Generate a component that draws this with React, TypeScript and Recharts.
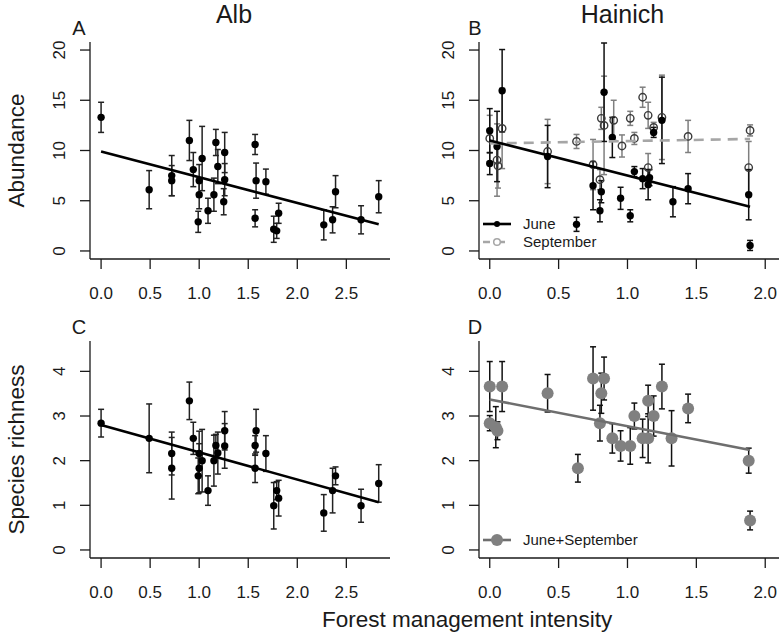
import React from "react";
import { ScatterChart, Scatter, XAxis, YAxis, ErrorBar } from "recharts";

// Alb sites: abundance (A) and species richness (C), mean +/- se
const albAbundance = [
  { x: 0.0, y: 13.3, se: 1.5 },
  { x: 0.49, y: 6.1, se: 1.9 },
  { x: 0.72, y: 7.5, se: 2.0 },
  { x: 0.72, y: 7.0, se: 1.5 },
  { x: 0.9, y: 11.0, se: 2.0 },
  { x: 0.94, y: 8.1, se: 1.7 },
  { x: 1.0, y: 7.0, se: 1.6 },
  { x: 1.0, y: 5.6, se: 1.4 },
  { x: 0.99, y: 2.9, se: 1.05 },
  { x: 1.03, y: 9.2, se: 3.2 },
  { x: 1.09, y: 4.0, se: 1.25 },
  { x: 1.15, y: 5.6, se: 1.65 },
  { x: 1.17, y: 10.8, se: 1.3 },
  { x: 1.19, y: 8.4, se: 1.7 },
  { x: 1.26, y: 9.8, se: 2.0 },
  { x: 1.26, y: 7.1, se: 1.6 },
  { x: 1.25, y: 4.9, se: 1.3 },
  { x: 1.57, y: 10.6, se: 1.0 },
  { x: 1.58, y: 7.0, se: 1.75 },
  { x: 1.57, y: 3.25, se: 0.85 },
  { x: 1.68, y: 6.9, se: 1.25 },
  { x: 1.76, y: 2.16, se: 1.3 },
  { x: 1.79, y: 2.0, se: 0.75 },
  { x: 1.81, y: 3.75, se: 1.0 },
  { x: 2.27, y: 2.6, se: 1.5 },
  { x: 2.36, y: 3.1, se: 1.3 },
  { x: 2.39, y: 5.9, se: 1.6 },
  { x: 2.65, y: 3.1, se: 1.4 },
  { x: 2.83, y: 5.4, se: 1.6 },
];

const albRichness = [
  { x: 0.0, y: 2.84, se: 0.31 },
  { x: 0.49, y: 2.5, se: 0.77 },
  { x: 0.72, y: 2.16, se: 0.48 },
  { x: 0.72, y: 1.83, se: 0.69 },
  { x: 0.9, y: 3.34, se: 0.42 },
  { x: 0.94, y: 2.5, se: 0.36 },
  { x: 1.0, y: 2.16, se: 0.5 },
  { x: 1.0, y: 1.83, se: 0.55 },
  { x: 0.99, y: 1.66, se: 0.4 },
  { x: 1.03, y: 2.0, se: 0.7 },
  { x: 1.09, y: 1.33, se: 0.33 },
  { x: 1.15, y: 2.0, se: 0.57 },
  { x: 1.17, y: 2.34, se: 0.25 },
  { x: 1.19, y: 2.17, se: 0.47 },
  { x: 1.26, y: 2.67, se: 0.43 },
  { x: 1.26, y: 2.33, se: 0.5 },
  { x: 1.57, y: 2.34, se: 0.22 },
  { x: 1.58, y: 2.67, se: 0.48 },
  { x: 1.57, y: 1.83, se: 0.32 },
  { x: 1.68, y: 2.16, se: 0.4 },
  { x: 1.76, y: 0.99, se: 0.52 },
  { x: 1.79, y: 1.33, se: 0.2 },
  { x: 1.81, y: 1.16, se: 0.4 },
  { x: 2.27, y: 0.83, se: 0.41 },
  { x: 2.36, y: 1.33, se: 0.5 },
  { x: 2.39, y: 1.66, se: 0.2 },
  { x: 2.65, y: 0.99, se: 0.37 },
  { x: 2.83, y: 1.49, se: 0.42 },
];

// Hainich sites: abundance by month (B) and pooled richness (D)
const hainichJune = [
  { x: 0.0, y: 11.97, se: 2.2 },
  { x: 0.0, y: 8.7, se: 1.1 },
  { x: 0.053, y: 10.4, se: 3.5 },
  { x: 0.09, y: 15.95, se: 4.1 },
  { x: 0.42, y: 9.4, se: 3.1 },
  { x: 0.63, y: 2.65, se: 0.7 },
  { x: 0.75, y: 6.5, se: 2.4 },
  { x: 0.8, y: 4.0, se: 1.1 },
  { x: 0.81, y: 5.9, se: 1.1 },
  { x: 0.83, y: 15.8, se: 4.9 },
  { x: 0.89, y: 11.3, se: 2.0 },
  { x: 0.95, y: 5.24, se: 1.1 },
  { x: 1.02, y: 3.5, se: 0.6 },
  { x: 1.05, y: 7.9, se: 0.5 },
  { x: 1.11, y: 7.2, se: 1.0 },
  { x: 1.15, y: 6.6, se: 1.5 },
  { x: 1.16, y: 7.3, se: 0.8 },
  { x: 1.19, y: 11.8, se: 0.5 },
  { x: 1.25, y: 13.0, se: 4.3 },
  { x: 1.33, y: 4.9, se: 1.5 },
  { x: 1.44, y: 6.2, se: 1.5 },
  { x: 1.88, y: 5.6, se: 2.5 },
  { x: 1.89, y: 0.55, se: 0.5 },
];

const hainichSeptember = [
  { x: 0.0, y: 11.2, se: 2.3 },
  { x: 0.053, y: 9.05, se: 3.6 },
  { x: 0.06, y: 8.46, se: 2.2 },
  { x: 0.09, y: 12.2, se: 4.0 },
  { x: 0.42, y: 9.9, se: 3.2 },
  { x: 0.63, y: 10.9, se: 0.7 },
  { x: 0.75, y: 8.6, se: 2.5 },
  { x: 0.8, y: 7.1, se: 1.0 },
  { x: 0.81, y: 13.2, se: 1.1 },
  { x: 0.83, y: 12.5, se: 4.9 },
  { x: 0.9, y: 13.0, se: 2.0 },
  { x: 0.96, y: 10.45, se: 1.1 },
  { x: 1.02, y: 13.2, se: 0.7 },
  { x: 1.05, y: 11.2, se: 0.6 },
  { x: 1.11, y: 15.3, se: 1.0 },
  { x: 1.15, y: 13.5, se: 1.3 },
  { x: 1.15, y: 8.3, se: 1.4 },
  { x: 1.19, y: 12.3, se: 0.5 },
  { x: 1.25, y: 13.3, se: 4.2 },
  { x: 1.44, y: 11.4, se: 1.6 },
  { x: 1.89, y: 12.0, se: 0.55 },
  { x: 1.88, y: 8.3, se: 2.6 },
];

const hainichRichness = [
  { x: 0.0, y: 3.66, se: 0.56 },
  { x: 0.0, y: 2.84, se: 0.17 },
  { x: 0.044, y: 2.75, se: 0.46 },
  { x: 0.056, y: 2.67, se: 0.2 },
  { x: 0.09, y: 3.66, se: 0.56 },
  { x: 0.42, y: 3.51, se: 0.42 },
  { x: 0.64, y: 1.83, se: 0.31 },
  { x: 0.75, y: 3.84, se: 0.71 },
  { x: 0.8, y: 2.84, se: 0.4 },
  { x: 0.81, y: 3.51, se: 0.45 },
  { x: 0.83, y: 3.84, se: 0.48 },
  { x: 0.89, y: 2.5, se: 0.33 },
  { x: 0.95, y: 2.33, se: 0.34 },
  { x: 1.02, y: 2.33, se: 0.41 },
  { x: 1.05, y: 3.0, se: 0.29 },
  { x: 1.11, y: 2.5, se: 0.43 },
  { x: 1.15, y: 2.5, se: 0.55 },
  { x: 1.15, y: 3.34, se: 0.35 },
  { x: 1.19, y: 3.0, se: 0.45 },
  { x: 1.25, y: 3.66, se: 0.5 },
  { x: 1.32, y: 2.5, se: 0.62 },
  { x: 1.44, y: 3.17, se: 0.32 },
  { x: 1.88, y: 2.0, se: 0.28 },
  { x: 1.89, y: 0.66, se: 0.21 },
];

// fitted regression lines (end points)
const fitAlbAbundance = [{ x: 0, y: 9.9 }, { x: 2.83, y: 2.65 }];
const fitAlbRichness = [{ x: 0, y: 2.8 }, { x: 2.83, y: 1.07 }];
const fitJune = [{ x: 0, y: 11.0 }, { x: 1.89, y: 4.41 }];
const fitSeptember = [{ x: 0, y: 10.7 }, { x: 1.89, y: 11.15 }];
const fitHainichRichness = [{ x: 0, y: 3.37 }, { x: 1.89, y: 2.24 }];

const albTicks = [0, 0.5, 1, 1.5, 2, 2.5];
const hainichTicks = [0, 0.5, 1, 1.5, 2];
const abundanceTicks = [0, 5, 10, 15, 20];
const richnessTicks = [0, 1, 2, 3, 4];

const FONT = '"Liberation Sans", Arial, sans-serif';
const INK = "#1a1a1a";

const XTick = (props: any) => {
  const { x, y, payload } = props;
  return (
    <text x={x} y={y} dy="0.71em" textAnchor="middle" fontSize={17} fontFamily={FONT} fill={INK}>
      {Number(payload.value).toFixed(1)}
    </text>
  );
};

const YTick = (props: any) => {
  const { x, y, payload } = props;
  return (
    <text
      x={x}
      y={y}
      dy="0.35em"
      transform={`rotate(-90 ${x} ${y})`}
      textAnchor="middle"
      fontSize={17}
      fontFamily={FONT}
      fill={INK}
    >
      {payload.value}
    </text>
  );
};

const dot = (r: number, fill: string, stroke = "none") => (p: any) =>
  <circle cx={p.cx} cy={p.cy} r={r} fill={fill} stroke={stroke} strokeWidth={1.4} />;
const nothing = () => <g />;

function Panel(props: any) {
  const { left, top, width, yAxisWidth, xDomain, xTicks, yDomain, yTicks, children } = props;
  const axisStyle = { stroke: INK, strokeWidth: 1.3 };
  return (
    <div style={{ position: "absolute", left, top }}>
      <ScatterChart width={width} height={315} margin={{ top: 42, right: 0, bottom: 0, left: 0 }}>
        <XAxis
          type="number"
          dataKey="x"
          domain={xDomain}
          ticks={xTicks}
          allowDataOverflow
          height={56}
          tickSize={10}
          tickMargin={18}
          tick={<XTick />}
          axisLine={axisStyle}
          tickLine={axisStyle}
        />
        <YAxis
          type="number"
          dataKey="y"
          domain={yDomain}
          ticks={yTicks}
          allowDataOverflow
          width={yAxisWidth}
          tickSize={10}
          tickMargin={21}
          tick={<YTick />}
          axisLine={axisStyle}
          tickLine={axisStyle}
        />
        {children}
      </ScatterChart>
    </div>
  );
}

export default function App() {
  return (
    <div style={{ position: "absolute", left: 0, top: 0, width: 779, height: 635, background: "#fff" }}>
      {/* A: Alb abundance */}
      <Panel left={0} top={0} width={390} yAxisWidth={90} xDomain={[-0.113, 2.945]} xTicks={albTicks} yDomain={[-0.8, 20.8]} yTicks={abundanceTicks}>
        <Scatter data={albAbundance} shape={dot(3.7, "#000")} isAnimationActive={false}>
          <ErrorBar dataKey="se" direction="y" width={3} stroke="#222" strokeWidth={1.5} isAnimationActive={false} />
        </Scatter>
        <Scatter data={fitAlbAbundance} shape={nothing} line={{ stroke: "#000", strokeWidth: 2.6 }} isAnimationActive={false} />
      </Panel>

      {/* B: Hainich abundance, June vs September */}
      <Panel left={390} top={0} width={389} yAxisWidth={89} xDomain={[-0.078, 2.1]} xTicks={hainichTicks} yDomain={[-0.8, 20.8]} yTicks={abundanceTicks}>
        <Scatter data={hainichSeptember} shape={dot(3.7, "none", "#3a3a3a")} isAnimationActive={false}>
          <ErrorBar dataKey="se" direction="y" width={3} stroke="#7f7f7f" strokeWidth={1.5} isAnimationActive={false} />
        </Scatter>
        <Scatter data={hainichJune} shape={dot(3.7, "#000")} isAnimationActive={false}>
          <ErrorBar dataKey="se" direction="y" width={3} stroke="#111" strokeWidth={1.5} isAnimationActive={false} />
        </Scatter>
        <Scatter data={fitSeptember} shape={nothing} line={{ stroke: "#a6a6a6", strokeWidth: 2.6, strokeDasharray: "10 7" }} isAnimationActive={false} />
        <Scatter data={fitJune} shape={nothing} line={{ stroke: "#000", strokeWidth: 2.6 }} isAnimationActive={false} />
      </Panel>

      {/* C: Alb species richness */}
      <Panel left={0} top={299} width={390} yAxisWidth={90} xDomain={[-0.113, 2.945]} xTicks={albTicks} yDomain={[-0.18, 4.68]} yTicks={richnessTicks}>
        <Scatter data={albRichness} shape={dot(3.7, "#000")} isAnimationActive={false}>
          <ErrorBar dataKey="se" direction="y" width={3} stroke="#222" strokeWidth={1.5} isAnimationActive={false} />
        </Scatter>
        <Scatter data={fitAlbRichness} shape={nothing} line={{ stroke: "#000", strokeWidth: 2.6 }} isAnimationActive={false} />
      </Panel>

      {/* D: Hainich species richness, pooled */}
      <Panel left={390} top={299} width={389} yAxisWidth={89} xDomain={[-0.078, 2.1]} xTicks={hainichTicks} yDomain={[-0.18, 4.68]} yTicks={richnessTicks}>
        <Scatter data={hainichRichness} shape={dot(6, "#808080")} isAnimationActive={false} />
        <Scatter data={hainichRichness} shape={nothing} isAnimationActive={false}>
          <ErrorBar dataKey="se" direction="y" width={3} stroke="#111" strokeWidth={1.5} isAnimationActive={false} />
        </Scatter>
        <Scatter data={fitHainichRichness} shape={nothing} line={{ stroke: "#6e6e6e", strokeWidth: 2.6 }} isAnimationActive={false} />
      </Panel>

      <svg width={779} height={635} style={{ position: "absolute", left: 0, top: 0, pointerEvents: "none" }} fontFamily={FONT} fill={INK}>
        <text x={234} y={22.5} fontSize={25} textAnchor="middle">Alb</text>
        <text x={622.5} y={22.5} fontSize={25} textAnchor="middle">Hainich</text>
        <text x={79} y={35} fontSize={20} textAnchor="middle">A</text>
        <text x={475} y={35} fontSize={20} textAnchor="middle">B</text>
        <text x={79} y={334} fontSize={20} textAnchor="middle">C</text>
        <text x={475} y={334} fontSize={20} textAnchor="middle">D</text>
        <text x={24} y={150.5} fontSize={22.5} textAnchor="middle" transform="rotate(-90 24 150.5)">Abundance</text>
        <text x={24} y={449.5} fontSize={22.5} textAnchor="middle" transform="rotate(-90 24 449.5)">Species richness</text>
        <text x={322} y={627} fontSize={22.5}>Forest management intensity</text>

        {/* legend B */}
        <line x1={483} x2={511} y1={224} y2={224} stroke="#000" strokeWidth={2.6} />
        <circle cx={497} cy={224} r={3} fill="#000" />
        <text x={523} y={224} dy="0.35em" fontSize={15}>June</text>
        <line x1={483} x2={511} y1={242} y2={242} stroke="#a6a6a6" strokeWidth={2.6} strokeDasharray="7 8" />
        <circle cx={497} cy={242} r={3.3} fill="#fff" stroke="#a6a6a6" strokeWidth={1.5} />
        <text x={523} y={242} dy="0.35em" fontSize={15}>September</text>

        {/* legend D */}
        <line x1={483} x2={511} y1={540} y2={540} stroke="#6e6e6e" strokeWidth={2.6} />
        <circle cx={497} cy={540} r={6} fill="#808080" />
        <text x={523} y={540} dy="0.35em" fontSize={15}>June+September</text>
      </svg>
    </div>
  );
}
